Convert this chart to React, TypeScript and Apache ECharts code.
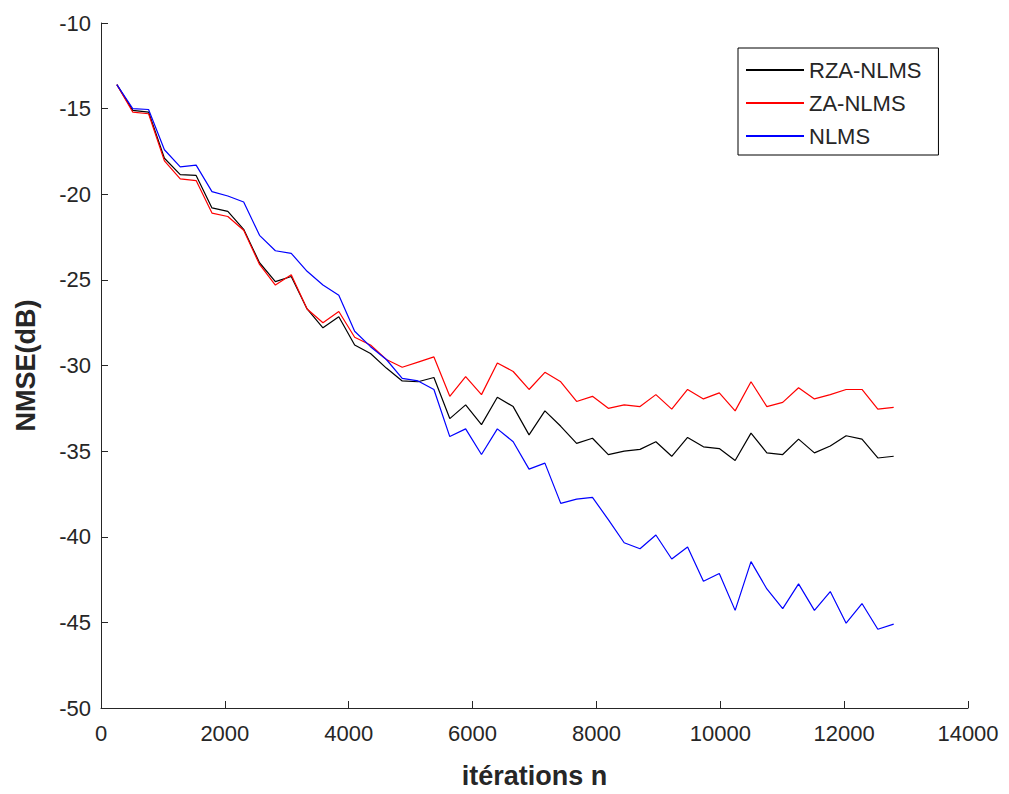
import React, { useEffect, useRef } from "react";
import * as echarts from "echarts";

const iterations = [
  256, 512, 768, 1024, 1280, 1536, 1792, 2048, 2304, 2560,
  2816, 3072, 3328, 3584, 3840, 4096, 4352, 4608, 4864, 5120,
  5376, 5632, 5888, 6144, 6400, 6656, 6912, 7168, 7424, 7680,
  7936, 8192, 8448, 8704, 8960, 9216, 9472, 9728, 9984, 10240,
  10496, 10752, 11008, 11264, 11520, 11776, 12032, 12288, 12544, 12800,
];

const rzaNlms = [
  -13.6, -15.1, -15.2, -17.9, -18.85, -18.9, -20.8, -21.0, -22.05, -24.0,
  -25.1, -24.8, -26.7, -27.8, -27.15, -28.8, -29.3, -30.15, -30.9, -30.95,
  -30.7, -33.1, -32.3, -33.45, -31.85, -32.4, -34.05, -32.65, -33.55, -34.55,
  -34.25, -35.2, -35.0, -34.9, -34.45, -35.3, -34.2, -34.75, -34.85, -35.55,
  -33.95, -35.1, -35.2, -34.3, -35.1, -34.7, -34.1, -34.3, -35.4, -35.3,
];

const zaNlms = [
  -13.6, -15.2, -15.3, -18.05, -19.1, -19.2, -21.1, -21.3, -22.1, -24.1,
  -25.3, -24.7, -26.7, -27.5, -26.85, -28.35, -28.8, -29.65, -30.1, -29.8,
  -29.5, -31.8, -30.65, -31.7, -29.85, -30.35, -31.4, -30.4, -30.95, -32.1,
  -31.8, -32.5, -32.3, -32.4, -31.7, -32.55, -31.4, -31.95, -31.6, -32.65,
  -30.95, -32.4, -32.15, -31.3, -31.95, -31.7, -31.4, -31.4, -32.55, -32.45,
];

const nlms = [
  -13.6, -15.0, -15.05, -17.4, -18.4, -18.3, -19.85, -20.1, -20.45, -22.4,
  -23.3, -23.45, -24.5, -25.3, -25.9, -28.0, -28.9, -29.65, -30.75, -30.9,
  -31.4, -34.15, -33.7, -35.2, -33.7, -34.45, -36.05, -35.7, -38.05, -37.8,
  -37.7, -39.0, -40.35, -40.7, -39.9, -41.3, -40.6, -42.6, -42.15, -44.3,
  -41.45, -43.05, -44.2, -42.75, -44.3, -43.2, -45.05, -43.9, -45.4, -45.1,
];

const seriesNames = ["RZA-NLMS", "ZA-NLMS", "NLMS"];
const seriesColors = ["#000000", "#ff0000", "#0000ff"];
const seriesValues = [rzaNlms, zaNlms, nlms];

const FONT = "Arial, 'Liberation Sans', Helvetica, sans-serif";
const AXIS_COLOR = "#262626";

export default function App() {
  const ref = useRef<HTMLDivElement>(null);

  useEffect(() => {
    if (!ref.current) return;
    const chart = echarts.init(ref.current, null, { renderer: "svg" });
    const axisCommon = {
      axisLine: { show: true, lineStyle: { color: AXIS_COLOR, width: 1 } },
      axisTick: { show: true, inside: true, length: 7, lineStyle: { color: AXIS_COLOR } },
      splitLine: { show: false },
      nameTextStyle: { fontFamily: FONT, fontWeight: "bold", fontSize: 27, color: AXIS_COLOR },
    };
    chart.setOption({
      animation: false,
      backgroundColor: "#ffffff",
      grid: { left: 101, right: 41, top: 23, bottom: 86, containLabel: false },
      legend: {
        orient: "vertical",
        left: 738,
        top: 48,
        data: seriesNames,
        icon: "rect",
        itemWidth: 58,
        itemHeight: 2,
        itemGap: 11,
        padding: [11, 17, 8, 8],
        borderColor: "#000000",
        borderWidth: 1,
        backgroundColor: "#ffffff",
        textStyle: { fontFamily: FONT, fontSize: 22, color: AXIS_COLOR },
      },
      xAxis: {
        type: "value",
        min: 0,
        max: 14000,
        interval: 2000,
        name: "itérations n",
        nameLocation: "middle",
        nameGap: 54,
        ...axisCommon,
        axisLabel: {
          fontFamily: FONT,
          fontSize: 22,
          color: AXIS_COLOR,
          margin: 14,
          formatter: (v: number) => String(v),
        },
      },
      yAxis: {
        type: "value",
        min: -50,
        max: -10,
        interval: 5,
        name: "NMSE(dB)",
        nameLocation: "middle",
        nameGap: 62,
        ...axisCommon,
        axisLabel: {
          fontFamily: FONT,
          fontSize: 22,
          color: AXIS_COLOR,
          margin: 10,
          formatter: (v: number) => String(v),
        },
      },
      series: seriesNames.map((name, i) => ({
        name,
        type: "line",
        symbol: "none",
        showSymbol: false,
        lineStyle: { color: seriesColors[i], width: 1.2 },
        itemStyle: { color: seriesColors[i] },
        data: iterations.map((x, j) => [x, seriesValues[i][j]]),
      })),
    });
    return () => chart.dispose();
  }, []);

  return (
    <div
      ref={ref}
      style={{ position: "fixed", left: 0, top: 0, width: 1009, height: 794, background: "#fff" }}
    />
  );
}
